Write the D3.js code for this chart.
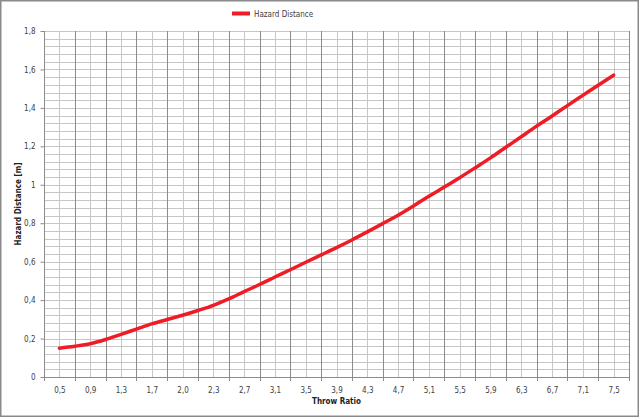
<!DOCTYPE html>
<html><head><meta charset="utf-8">
<script src="https://cdn.jsdelivr.net/npm/d3@7"></script>
<style>html,body{margin:0;padding:0;background:#fff;}svg{display:block;}</style>
</head><body>
<svg id="chart" width="640" height="418"></svg>
<script>
const categories = [0.5,0.7,0.9,1.1,1.3,1.5,1.7,1.85,2.0,2.15,2.3,2.5,2.7,2.9,3.1,3.3,3.5,3.7,3.9,4.1,4.3,4.5,4.7,4.9,5.1,5.3,5.5,5.7,5.9,6.1,6.3,6.5,6.7,6.9,7.1,7.3,7.5];
const hazardDistance = [0.150,0.160,0.173,0.195,0.222,0.249,0.276,0.299,0.321,0.346,0.373,0.406,0.444,0.481,0.520,0.558,0.597,0.635,0.673,0.713,0.755,0.798,0.842,0.890,0.940,0.988,1.037,1.088,1.140,1.195,1.250,1.305,1.358,1.412,1.465,1.518,1.570];
const yTicks = [0,0.2,0.4,0.6,0.8,1,1.2,1.4,1.6,1.8];
const seriesName = "Hazard Distance";
const xTitle = "Throw Ratio";
const yTitle = "Hazard Distance [m]";

(function(){
const svg = d3.select("#chart");
const W = 640, H = 418;
const pL = 44, pR = 629, pT = 31, pB = 377;
const font = "'DejaVu Sans Condensed', 'DejaVu Sans', sans-serif";
const txt = "#404040";

svg.append("rect").attr("x",0.75).attr("y",0.75).attr("width",W-2.5).attr("height",H-2.5)
  .attr("fill","#fff").attr("stroke","#8a8a8a").attr("stroke-width",1.5);

const x = d3.scalePoint().domain(d3.range(categories.length)).range([pL,pR]).padding(1);
const y = d3.scaleLinear().domain([0,1.8]).range([pB,pT]);
const step = x.step();

const hLines = d3.range(0,46).map(k=>k*0.04);
svg.append("g").selectAll("line").data(hLines).join("line")
  .attr("x1",pL).attr("x2",pR)
  .attr("y1",d=>Math.round(y(d))+0.5).attr("y2",d=>Math.round(y(d))+0.5)
  .attr("stroke","#c6c6c6").attr("stroke-width",1);

const vIdx = d3.range(0,categories.length+2);
svg.append("g").selectAll("line").data(vIdx).join("line")
  .attr("x1",k=>Math.round(pL+k*step)+0.5).attr("x2",k=>Math.round(pL+k*step)+0.5)
  .attr("y1",pT).attr("y2",pB)
  .attr("stroke",k=>k%2===0?"#8c8c8c":"#c6c6c6").attr("stroke-width",1);

const xAxis = d3.axisBottom(x).tickValues(d3.range(0,categories.length,2))
  .tickFormat(i=>d3.format(".1f")(categories[i]).replace(".",",")).tickSize(0).tickPadding(10);
const gx = svg.append("g").attr("transform",`translate(0,${pB})`).call(xAxis);
gx.select(".domain").remove();
gx.selectAll("text").attr("fill",txt).style("font-family",font).style("font-size","8px");
svg.append("g").selectAll("line").data(vIdx.filter(k=>k%2===0)).join("line")
  .attr("x1",k=>Math.round(pL+k*step)+0.5).attr("x2",k=>Math.round(pL+k*step)+0.5)
  .attr("y1",pB).attr("y2",pB+4).attr("stroke","#8c8c8c");

const yAxis = d3.axisLeft(y).tickValues(yTicks)
  .tickFormat(d=>d===0?"0":String(+d.toFixed(1)).replace(".",",")).tickSize(4).tickPadding(5);
const gy = svg.append("g").attr("transform",`translate(${pL+0.5},0)`).call(yAxis);
gy.select(".domain").remove();
gy.selectAll("line").attr("stroke","#8c8c8c");
gy.selectAll("text").attr("fill",txt).style("font-family",font).style("font-size","8px");

svg.append("line").attr("x1",pL+0.5).attr("x2",pL+0.5).attr("y1",pT).attr("y2",pB+0.5).attr("stroke","#8c8c8c");
svg.append("line").attr("x1",pL).attr("x2",pR+1).attr("y1",pB+0.5).attr("y2",pB+0.5).attr("stroke","#8c8c8c");

const line = d3.line().x((d,i)=>x(i)).y(d=>y(d)).curve(d3.curveMonotoneX);
svg.append("path").datum(hazardDistance).attr("d",line)
  .attr("fill","none").attr("stroke","#ee1c25").attr("stroke-width",3.5).attr("stroke-linecap","round");

svg.append("text").attr("x",(pL+pR)/2).attr("y",404).attr("text-anchor","middle")
  .attr("fill","#222").style("font-family",font).style("font-size","8px").style("font-weight","bold").text(xTitle);
svg.append("text").attr("transform",`translate(21,${(pT+pB)/2}) rotate(-90)`).attr("text-anchor","middle")
  .attr("fill","#222").style("font-family",font).style("font-size","8px").style("font-weight","bold").text(yTitle);

const lg = svg.append("g");
lg.append("line").attr("x1",232).attr("x2",250).attr("y1",13.5).attr("y2",13.5)
  .attr("stroke","#ee1c25").attr("stroke-width",4);
lg.append("text").attr("x",254).attr("y",16.5).attr("fill",txt)
  .style("font-family",font).style("font-size","8px").text(seriesName);
})();
</script>
</body></html>
